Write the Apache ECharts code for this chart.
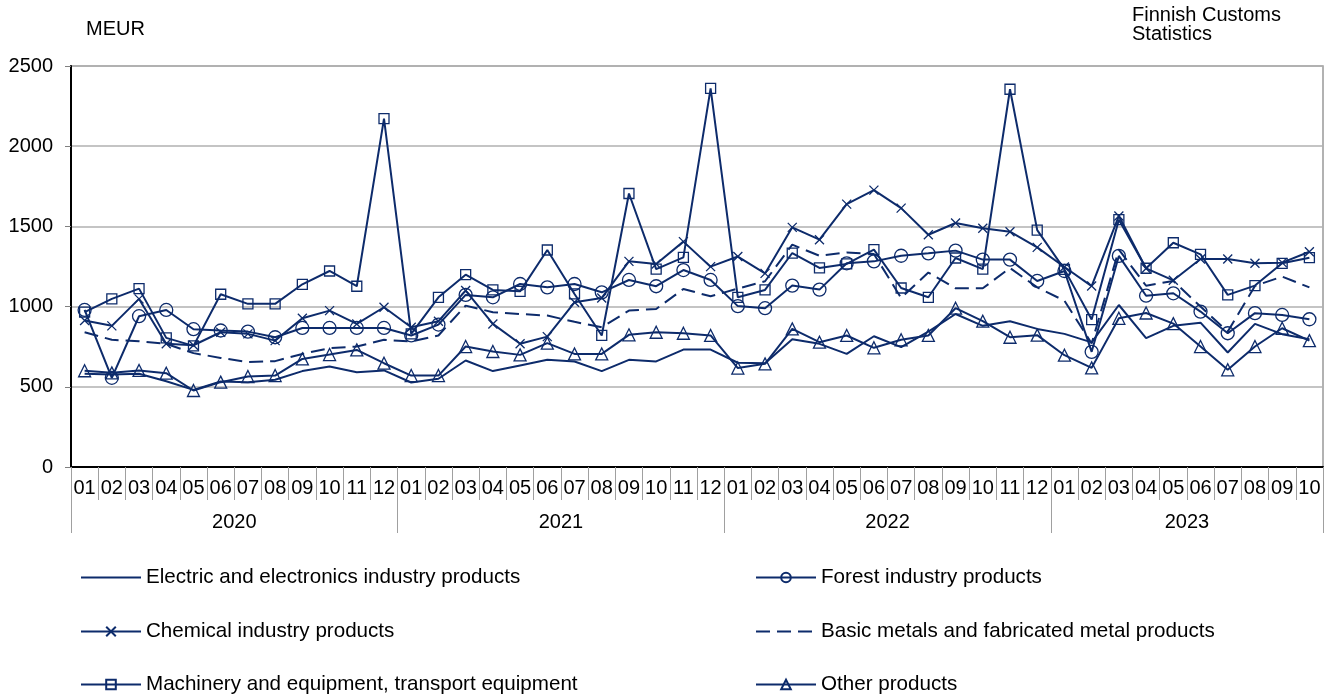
<!DOCTYPE html>
<html>
<head>
<meta charset="utf-8">
<script src="https://cdn.jsdelivr.net/npm/echarts@6/dist/echarts.min.js"></script>
<style>html,body{margin:0;padding:0;background:#fff}#c{width:1328px;height:700px}</style>
</head>
<body>
<div id="c"></div>
<script>
var months = ['01','02','03','04','05','06','07','08','09','10','11','12',
  '01','02','03','04','05','06','07','08','09','10','11','12',
  '01','02','03','04','05','06','07','08','09','10','11','12',
  '01','02','03','04','05','06','07','08','09','10'];
var yearLabels = ['2020','2021','2022','2023'];
var yearLabelPos = [6, 18, 30, 41];
var yearBounds = [0, 12, 24, 36, 46];
var yTicks = [0, 500, 1000, 1500, 2000, 2500];

var electric = [581,577,581,535,481,533,529,544,598,627,591,602,
  527,550,664,598,633,668,658,598,668,658,732,732,
  650,647,797,768,705,815,747,844,954,880,909,861,
  830,777,1010,804,880,900,714,892,828,797];
var forest = [979,556,940,979,859,851,844,809,867,867,867,867,
  820,888,1073,1058,1141,1120,1141,1089,1166,1127,1228,1166,
  1003,990,1131,1106,1270,1282,1317,1332,1349,1293,1293,1160,
  1222,718,1316,1068,1083,969,834,959,948,921];
var chemical = [913,880,1048,768,759,840,830,788,927,975,892,996,
  871,909,1100,892,768,813,1027,1054,1282,1266,1405,1249,
  1312,1207,1494,1417,1639,1726,1614,1448,1521,1488,1467,1369,
  1247,1128,1565,1238,1164,1297,1297,1270,1274,1342];
var basic = [840,793,784,768,710,680,654,660,705,741,751,793,
  782,820,1006,965,954,944,905,871,975,985,1110,1064,
  1112,1158,1386,1317,1338,1328,1054,1212,1114,1114,1241,1120,
  1037,770,1355,1130,1160,1000,844,1129,1187,1120];
var machinery = [965,1048,1112,805,755,1077,1017,1017,1139,1222,1127,2172,
  830,1058,1199,1104,1095,1353,1079,820,1705,1234,1307,2361,
  1058,1104,1334,1241,1266,1355,1116,1058,1303,1234,2355,1477,
  1232,919,1542,1239,1398,1326,1073,1131,1270,1305];
var other = [600,587,602,585,477,529,564,570,674,701,730,647,
  570,570,751,720,699,772,705,705,824,840,834,820,
  617,643,861,778,820,743,793,820,990,909,809,822,
  697,618,927,960,894,751,606,751,865,788];

var NAVY = '#0d2b6b';
var FONT = 'Liberation Sans, Arial, sans-serif';
var FS = 20;
var CLEAR = 'rgba(255,255,255,0)';

function mk(name, data, symbol, size, dashed) {
  var noSym = symbol === null;
  return {
    name: name, type: 'line', data: data, color: NAVY,
    symbol: noSym ? 'circle' : symbol, symbolSize: size,
    showSymbol: !noSym,
    lineStyle: { color: NAVY, width: 2, type: dashed ? [14, 7] : 'solid' },
    itemStyle: noSym ? { color: CLEAR, borderColor: CLEAR, borderWidth: 0 }
                     : { color: CLEAR, borderColor: NAVY, borderWidth: 1.3 },
    emphasis: { disabled: true },
    animation: false, z: 3
  };
}

function leg(name, left, top) {
  return { orient: 'horizontal', left: left, top: top, itemWidth: 60, itemHeight: 12,
    padding: 0, textStyle: { fontSize: 20.6, color: '#000', fontFamily: FONT },
    data: [name] };
}

var N1 = 'Electric and electronics industry products';
var N2 = 'Forest industry products';
var N3 = 'Chemical industry products';
var N4 = 'Basic metals and fabricated metal products';
var N5 = 'Machinery and equipment, transport equipment';
var N6 = 'Other products';

var chart = echarts.init(document.getElementById('c'));
chart.setOption({
  animation: false,
  textStyle: { fontFamily: FONT },
  title: [
    { text: 'MEUR', left: 81, top: 14, textStyle: { fontSize: FS, fontWeight: 'normal', color: '#000', fontFamily: FONT } },
    { text: 'Finnish Customs\nStatistics', left: 1127, top: 1, textStyle: { fontSize: FS, lineHeight: 19, fontWeight: 'normal', color: '#000', fontFamily: FONT } }
  ],
  grid: { left: 71, right: 5, top: 66, bottom: 233, show: true, borderColor: '#999', borderWidth: 1.5, containLabel: false },
  legend: [
    leg(N1, 80, 567), leg(N3, 80, 621), leg(N5, 80, 674),
    leg(N2, 755, 567), leg(N4, 755, 621), leg(N6, 755, 674)
  ],
  xAxis: [
    { type: 'category', data: months, boundaryGap: true, position: 'bottom',
      axisLine: { show: true, lineStyle: { color: '#000', width: 2 } },
      axisTick: { show: true, interval: 0, length: 33, lineStyle: { color: '#a0a0a0', width: 1 } },
      axisLabel: { interval: 0, fontSize: FS, color: '#000', margin: 11, fontFamily: FONT },
      splitLine: { show: false } },
    { type: 'value', min: 0, max: 46, position: 'bottom',
      axisLine: { show: false },
      axisTick: { show: true, customValues: yearBounds, length: 66, lineStyle: { color: '#a0a0a0', width: 1 } },
      axisLabel: { show: true, customValues: yearLabelPos, fontSize: FS, color: '#000', margin: 45, fontFamily: FONT,
        formatter: function (v) { var i = yearLabelPos.indexOf(v); return i >= 0 ? yearLabels[i] : ''; } },
      splitLine: { show: false } }
  ],
  yAxis: { type: 'value', min: yTicks[0], max: yTicks[yTicks.length - 1], interval: 500,
    axisLine: { show: true, lineStyle: { color: '#000', width: 2 } },
    axisTick: { show: true, length: 6, lineStyle: { color: '#808080' } },
    axisLabel: { fontSize: FS, color: '#000', margin: 18, fontFamily: FONT,
      formatter: function (v) { return String(v); } },
    splitLine: { show: true, lineStyle: { color: '#b0b0b0', width: 1.5 } } },
  series: [
    mk(N1, electric, null, 0, false),
    mk(N2, forest, 'circle', 13, false),
    mk(N3, chemical, 'path://M0,0L10,10M10,0L0,10', 9, false),
    mk(N4, basic, null, 0, true),
    mk(N5, machinery, 'rect', 10, false),
    mk(N6, other, 'triangle', 12, false)
  ]
});
</script>
</body>
</html>
